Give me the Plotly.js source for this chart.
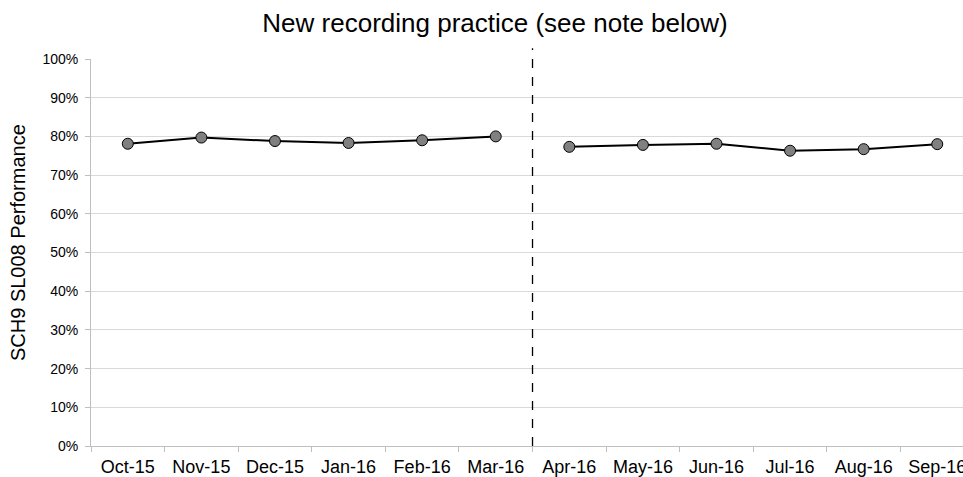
<!DOCTYPE html>
<html>
<head>
<meta charset="utf-8">
<script src="https://cdn.plot.ly/plotly-3.0.1.min.js"></script>
<style>
html,body{margin:0;padding:0;overflow:hidden;width:963px;height:477px;background:#fff;}
#chart{width:963px;height:477px;}
</style>
</head>
<body>
<div id="chart"></div>
<script>
const months = ["Oct-15","Nov-15","Dec-15","Jan-16","Feb-16","Mar-16","Apr-16","May-16","Jun-16","Jul-16","Aug-16","Sep-16"];
const beforeMonths = ["Oct-15","Nov-15","Dec-15","Jan-16","Feb-16","Mar-16"];
const beforeValues = [0.781, 0.797, 0.788, 0.783, 0.790, 0.800];
const afterMonths = ["Apr-16","May-16","Jun-16","Jul-16","Aug-16","Sep-16"];
const afterValues = [0.773, 0.778, 0.781, 0.763, 0.767, 0.780];
const yTicks = [0,0.1,0.2,0.3,0.4,0.5,0.6,0.7,0.8,0.9,1.0];
const splitIndex = beforeMonths.length;

const font = "Liberation Sans, Arial, sans-serif";
const markerStyle = {size: 11, color: "#808080", line: {color: "#000", width: 1}};
const lineStyle = {color: "#000", width: 2};

// x range: the chart's plot area runs past the right edge of the picture
const xRange = [-0.5, 11.35];
const splitFrac = (splitIndex - 0.5 - xRange[0]) / (xRange[1] - xRange[0]);

const traces = [
  {x: beforeMonths, y: beforeValues, type: "scatter", mode: "lines+markers", line: lineStyle, marker: markerStyle, cliponaxis: false},
  {x: afterMonths, y: afterValues, type: "scatter", mode: "lines+markers", line: lineStyle, marker: markerStyle, cliponaxis: false}
];

const layout = {
  width: 963, height: 477,
  margin: {l: 91, r: 0, t: 59, b: 31},
  paper_bgcolor: "#fff", plot_bgcolor: "#fff",
  showlegend: false,
  font: {family: font, color: "#000"},
  title: {text: "New recording practice (see note below)", font: {family: font, size: 26, color: "#000"},
          xref: "container", x: 495/963, xanchor: "center", yref: "container", y: 1 - 23/477, yanchor: "middle"},
  xaxis: {
    type: "category", categoryorder: "array", categoryarray: months,
    range: xRange,
    showgrid: false, zeroline: false,
    showline: true, linecolor: "#bfbfbf", linewidth: 1,
    ticks: "outside", tickson: "boundaries", ticklen: 5, tickcolor: "#bfbfbf",
    ticklabelstandoff: 4,
    tickfont: {family: font, size: 18, color: "#000"},
    fixedrange: true
  },
  yaxis: {
    range: [0, 1], tickvals: yTicks, tickformat: ".0%",
    showgrid: true, gridcolor: "#d9d9d9", gridwidth: 1,
    zeroline: false, showline: true, linecolor: "#bfbfbf", linewidth: 1,
    ticks: "outside", ticklen: 5, tickcolor: "#bfbfbf",
    ticklabelstandoff: 4,
    tickfont: {family: font, size: 14, color: "#000"},
    fixedrange: true
  },
  annotations: [{
    text: "SCH9 SL008 Performance", textangle: -90,
    xref: "paper", x: -73/872, xanchor: "center",
    yref: "paper", y: (446 - 243) / 387, yanchor: "middle",
    showarrow: false, font: {family: font, size: 20, color: "#000"}
  }],
  shapes: [{
    type: "line", xref: "x domain", yref: "paper",
    x0: splitFrac, x1: splitFrac,
    y0: 0, y1: 1.028,
    line: {color: "#000", width: 1.3, dash: "dash"}
  }]
};

Plotly.newPlot("chart", traces, layout, {displayModeBar: false, staticPlot: true});
</script>
</body>
</html>
